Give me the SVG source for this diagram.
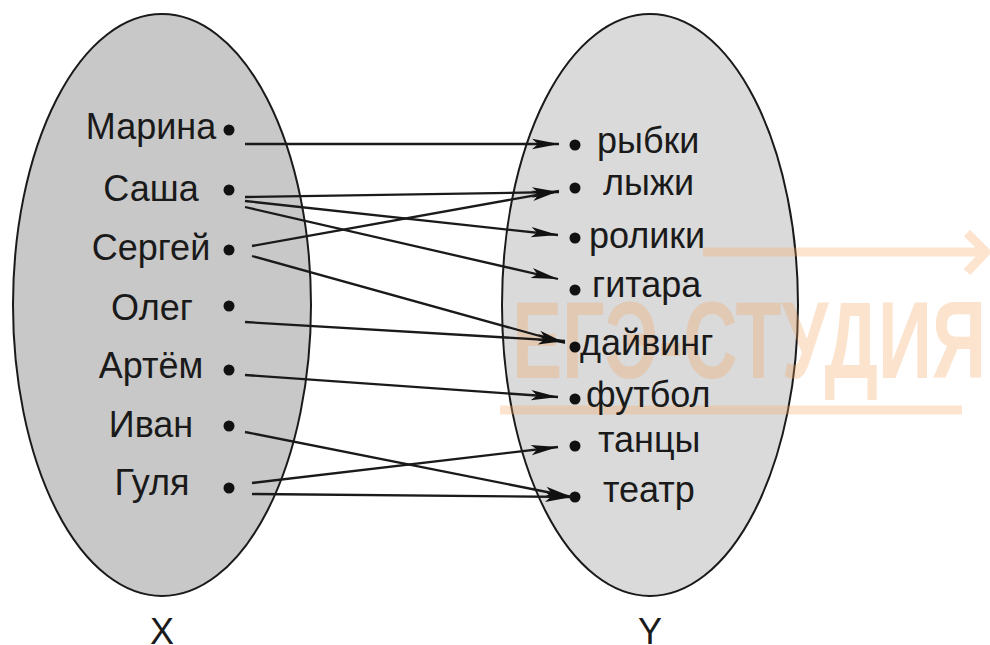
<svg xmlns="http://www.w3.org/2000/svg" width="990" height="645" viewBox="0 0 990 645">
<defs>
<style>
.set{stroke:#1a1a1a;stroke-width:2}
.lbl{font-family:"Liberation Sans",Arial,sans-serif;font-size:36px;fill:#1a1a1a}
.mid{text-anchor:middle}
.dot{fill:#111}
.con line{stroke:#1a1a1a;stroke-width:2.3;marker-end:url(#ah)}
.wm{fill:#f4a460;opacity:0.3}
.wml{stroke:#f4a460;opacity:0.3;fill:none;stroke-width:9}
</style>
<marker id="ah" markerUnits="userSpaceOnUse" markerWidth="30" markerHeight="12" viewBox="-28 -6 30 12" refX="0" refY="0" orient="auto">
<path d="M0,0 L-27,-5.2 L-21,0 L-27,5.2 z" fill="#111"/>
</marker>
</defs>
<rect width="990" height="645" fill="#ffffff"/>
<g id="setX">
<ellipse class="set" cx="162" cy="305" rx="149" ry="291" fill="#c8c8c8"/>
<text class="lbl mid" x="162" y="644">X</text>
</g>
<g id="setY">
<ellipse class="set" cx="650" cy="305" rx="148" ry="291" fill="#dadada"/>
<text class="lbl mid" x="650" y="644">Y</text>
</g>
<g id="watermark">
<text class="wm" x="512" y="378" font-family="Liberation Sans,Arial,sans-serif" font-weight="bold" font-size="109" textLength="474" lengthAdjust="spacingAndGlyphs">ЕГЭ-СТУДИЯ</text>
<path class="wml" d="M703,252 H984 M967,233 L986,252 L967,272 M500,410 H962"/>
</g>
<g id="x-nodes">
<g id="x-marina"><text class="lbl mid" x="151" y="139">Марина</text><circle class="dot" cx="229" cy="130" r="5.5"/></g>
<g id="x-sasha"><text class="lbl mid" x="151" y="201">Саша</text><circle class="dot" cx="229" cy="190" r="5.5"/></g>
<g id="x-sergey"><text class="lbl mid" x="151" y="260">Сергей</text><circle class="dot" cx="229" cy="250" r="5.5"/></g>
<g id="x-oleg"><text class="lbl mid" x="152" y="320">Олег</text><circle class="dot" cx="229" cy="306" r="5.5"/></g>
<g id="x-artem"><text class="lbl mid" x="151" y="378">Артём</text><circle class="dot" cx="229" cy="370" r="5.5"/></g>
<g id="x-ivan"><text class="lbl mid" x="151" y="437">Иван</text><circle class="dot" cx="229" cy="426" r="5.5"/></g>
<g id="x-gulya"><text class="lbl mid" x="152" y="495">Гуля</text><circle class="dot" cx="229" cy="488" r="5.5"/></g>
</g>
<g id="y-nodes">
<g id="y-rybki"><circle class="dot" cx="575" cy="145" r="5.5"/><text class="lbl" x="597" y="153">рыбки</text></g>
<g id="y-lyzhi"><circle class="dot" cx="575" cy="188" r="5.5"/><text class="lbl" x="603" y="195">лыжи</text></g>
<g id="y-roliki"><circle class="dot" cx="575" cy="238" r="5.5"/><text class="lbl" x="589" y="248">ролики</text></g>
<g id="y-gitara"><circle class="dot" cx="575" cy="290" r="5.5"/><text class="lbl" x="592" y="297">гитара</text></g>
<g id="y-dayving"><circle class="dot" cx="575" cy="347" r="5.5"/><text class="lbl" x="580" y="355">дайвинг</text></g>
<g id="y-futbol"><circle class="dot" cx="575" cy="399" r="5.5"/><text class="lbl" x="586" y="407">футбол</text></g>
<g id="y-tantsy"><circle class="dot" cx="575" cy="446" r="5.5"/><text class="lbl" x="598" y="452">танцы</text></g>
<g id="y-teatr"><circle class="dot" cx="575" cy="497" r="5.5"/><text class="lbl" x="603" y="502">театр</text></g>
</g>
<g id="connectors" class="con">
<line x1="245" y1="144" x2="559" y2="144"/>
<line x1="245" y1="197" x2="559" y2="192"/>
<line x1="245" y1="201" x2="558" y2="235"/>
<line x1="245" y1="207" x2="558" y2="279"/>
<line x1="252" y1="246" x2="559" y2="191"/>
<line x1="252" y1="256" x2="565" y2="343"/>
<line x1="245" y1="322" x2="565" y2="341"/>
<line x1="245" y1="375" x2="558" y2="397"/>
<line x1="245" y1="432" x2="572" y2="497"/>
<line x1="252" y1="483" x2="558" y2="447"/>
<line x1="252" y1="494" x2="572" y2="497"/>
</g>
</svg>
